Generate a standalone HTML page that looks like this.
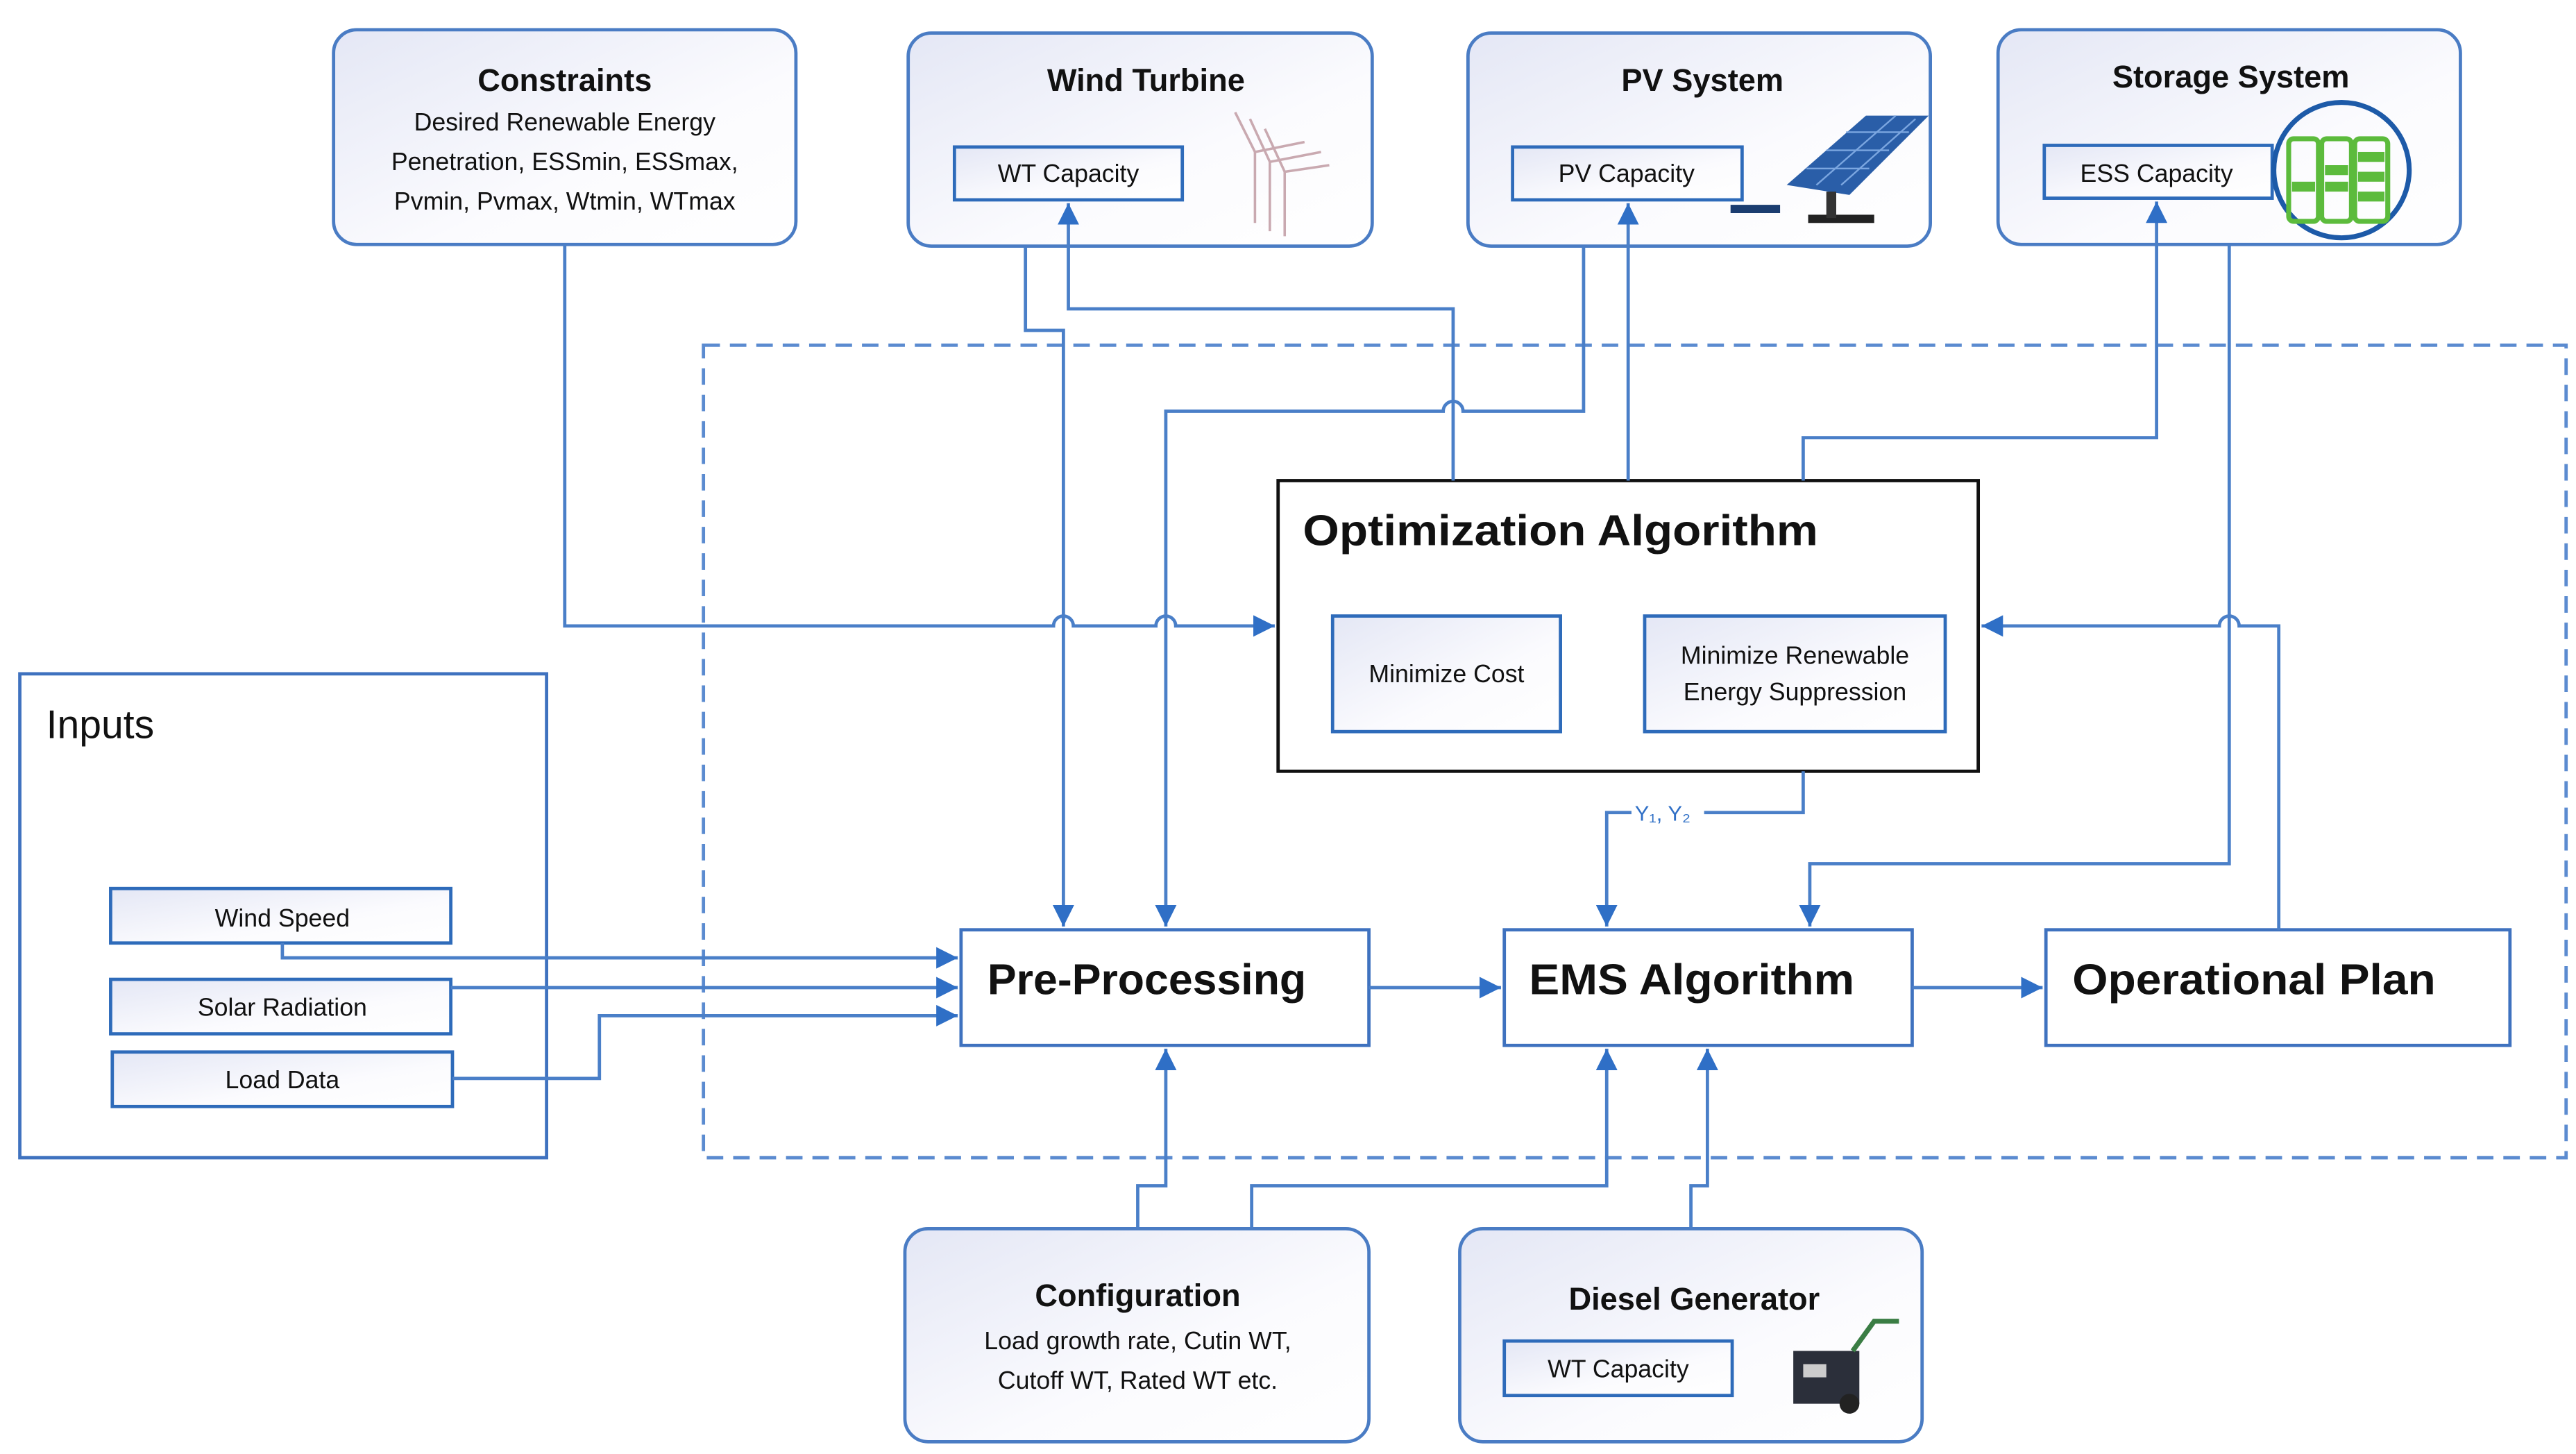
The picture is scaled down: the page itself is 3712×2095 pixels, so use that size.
<!DOCTYPE html>
<html><head><meta charset="utf-8"><style>
html,body{margin:0;padding:0;background:#fff;}
svg{display:block;}
text{font-family:"Liberation Sans Narrow","Liberation Sans",sans-serif;fill:#111;}
.t{font-weight:bold;}
</style></head><body>
<svg width="3712" height="2095" viewBox="0 0 1560 880.4" xmlns="http://www.w3.org/2000/svg">
<defs>
<linearGradient id="g" x1="0" y1="0" x2="1" y2="1">
<stop offset="0" stop-color="#e4e7f5"/><stop offset="0.6" stop-color="#fbfbfe"/><stop offset="1" stop-color="#ffffff"/>
</linearGradient>
<marker id="ar" viewBox="0 0 10 10" refX="10" refY="5" markerWidth="13" markerHeight="13" orient="auto-start-reverse" markerUnits="userSpaceOnUse">
<path d="M0,0 L10,5 L0,10 z" fill="#2f6fc6"/>
</marker>
</defs>

<!-- dashed region -->
<rect x="426" y="209" width="1128" height="492" fill="none" stroke="#5b8bd0" stroke-width="2" stroke-dasharray="10,6"/>

<!-- main boxes -->
<rect x="774" y="291" width="424" height="176" fill="#fff" stroke="#111" stroke-width="2"/>
<rect x="12" y="408" width="319" height="293" fill="#fff" stroke="#3f72bf" stroke-width="2"/>

<!-- top rounded boxes -->
<g stroke="#4a7cc4" stroke-width="2" fill="url(#g)">
<rect x="202" y="18" width="280" height="130" rx="14"/>
<rect x="550" y="20" width="281" height="129" rx="14"/>
<rect x="889" y="20" width="280" height="129" rx="14"/>
<rect x="1210" y="18" width="280" height="130" rx="14"/>
<rect x="548" y="744" width="281" height="129" rx="14"/>
<rect x="884" y="744" width="280" height="129" rx="14"/>
</g>
<g fill="url(#g)" stroke="#2e6bba" stroke-width="2">
<rect x="578" y="89" width="138" height="32"/>
<rect x="916" y="89" width="139" height="32"/>
<rect x="1238" y="88" width="138" height="32"/>
<rect x="911" y="812" width="138" height="33"/>
<rect x="807" y="373" width="138" height="70"/>
<rect x="996" y="373" width="182" height="70"/>
<rect x="67" y="538" width="206" height="33"/>
<rect x="67" y="593" width="206" height="33"/>
<rect x="68" y="637" width="206" height="33"/>
</g>
<g fill="#fff" stroke="#3f72bf" stroke-width="2">
<rect x="582" y="563" width="247" height="70"/>
<rect x="911" y="563" width="247" height="70"/>
<rect x="1239" y="563" width="281" height="70"/>
</g>

<!-- connectors -->
<g fill="none" stroke="#4a7fc8" stroke-width="2">
<path d="M342 148 V379 H638 A6 6 0 0 1 650 379 H700 A6 6 0 0 1 712 379 H772" marker-end="url(#ar)"/>
<path d="M621 149 V200 H644 V561" marker-end="url(#ar)"/>
<path d="M880 291 V187 H647 V123" marker-end="url(#ar)"/>
<path d="M959 149 V249 H886 A6 6 0 0 0 874 249 H706 V561" marker-end="url(#ar)"/>
<path d="M986 291 V123" marker-end="url(#ar)"/>
<path d="M1092 291 V265 H1306 V122" marker-end="url(#ar)"/>
<path d="M1350 148 V523 H1096 V561" marker-end="url(#ar)"/>
<path d="M1380 563 V379 H1356 A6 6 0 0 0 1344 379 H1200" marker-end="url(#ar)"/>
<path d="M1092 467 V492 H1032 M988 492 H973 V561" marker-end="url(#ar)"/>
<path d="M171 571 V580 H580" marker-end="url(#ar)"/>
<path d="M273 598 H580" marker-end="url(#ar)"/>
<path d="M274 653 H363 V615 H580" marker-end="url(#ar)"/>
<path d="M829 598 H909" marker-end="url(#ar)"/>
<path d="M1158 598 H1237" marker-end="url(#ar)"/>
<path d="M689 744 V718 H706 V635" marker-end="url(#ar)"/>
<path d="M758 744 V718 H973 V635" marker-end="url(#ar)"/>
<path d="M1024 744 V718 H1034 V635" marker-end="url(#ar)"/>
</g>
<text x="990" y="497" font-size="13" style="fill:#2f6fc6">Y₁, Y₂</text>

<!-- texts -->
<text class="t" x="342" y="55" font-size="19" text-anchor="middle">Constraints</text>
<text x="342" y="79" font-size="15" text-anchor="middle">Desired Renewable Energy</text>
<text x="342" y="103" font-size="15" text-anchor="middle">Penetration, ESSmin, ESSmax,</text>
<text x="342" y="127" font-size="15" text-anchor="middle">Pvmin, Pvmax, Wtmin, WTmax</text>
<text class="t" x="694" y="55" font-size="19" text-anchor="middle">Wind Turbine</text>
<text class="t" x="1031" y="55" font-size="19" text-anchor="middle">PV System</text>
<text class="t" x="1351" y="53" font-size="19" text-anchor="middle">Storage System</text>
<text x="647" y="110" font-size="15" text-anchor="middle">WT Capacity</text>
<text x="985" y="110" font-size="15" text-anchor="middle">PV Capacity</text>
<text x="1306" y="110" font-size="15" text-anchor="middle">ESS Capacity</text>
<text class="t" x="789" y="330" font-size="26" textLength="312" lengthAdjust="spacingAndGlyphs">Optimization Algorithm</text>
<text x="876" y="413" font-size="15" text-anchor="middle">Minimize Cost</text>
<text x="1087" y="402" font-size="15" text-anchor="middle">Minimize Renewable</text>
<text x="1087" y="424" font-size="15" text-anchor="middle">Energy Suppression</text>
<text x="28" y="447" font-size="24">Inputs</text>
<text x="171" y="561" font-size="15" text-anchor="middle">Wind Speed</text>
<text x="171" y="615" font-size="15" text-anchor="middle">Solar Radiation</text>
<text x="171" y="659" font-size="15" text-anchor="middle">Load Data</text>
<text class="t" x="598" y="602" font-size="26" textLength="193" lengthAdjust="spacingAndGlyphs">Pre-Processing</text>
<text class="t" x="926" y="602" font-size="26" textLength="197" lengthAdjust="spacingAndGlyphs">EMS Algorithm</text>
<text class="t" x="1255" y="602" font-size="26" textLength="220" lengthAdjust="spacingAndGlyphs">Operational Plan</text>
<text class="t" x="689" y="791" font-size="19" text-anchor="middle">Configuration</text>
<text x="689" y="817" font-size="15" text-anchor="middle">Load growth rate, Cutin WT,</text>
<text x="689" y="841" font-size="15" text-anchor="middle">Cutoff WT, Rated WT etc.</text>
<text class="t" x="1026" y="793" font-size="19" text-anchor="middle">Diesel Generator</text>
<text x="980" y="834" font-size="15" text-anchor="middle">WT Capacity</text>

<!-- wind turbine icon -->
<g stroke="#c9a9b0" stroke-width="1.5" fill="none">
<line x1="760" y1="92" x2="760" y2="135"/><line x1="769" y1="98" x2="769" y2="140"/><line x1="778" y1="104" x2="778" y2="143"/>
<path d="M760 92 L748 68 M760 92 L790 86 M769 98 L757 72 M769 98 L800 92 M778 104 L766 78 M778 104 L805 100"/>
</g>
<!-- solar panel -->
<polygon points="1082,112 1130,70 1168,70 1120,118" fill="#2a5ea8"/>
<g stroke="#7ba6e0" stroke-width="1"><line x1="1094" y1="102" x2="1132" y2="102"/><line x1="1106" y1="91" x2="1144" y2="91"/><line x1="1118" y1="80" x2="1156" y2="80"/><line x1="1100" y1="112" x2="1148" y2="70"/><line x1="1115" y1="112" x2="1160" y2="72"/></g>
<rect x="1048" y="124" width="30" height="5" fill="#1b3d70"/>
<rect x="1095" y="130" width="40" height="5" fill="#222"/><rect x="1106" y="116" width="6" height="16" fill="#333"/>
<!-- battery -->
<circle cx="1418" cy="103" r="41" fill="none" stroke="#1d5aa8" stroke-width="3"/>
<g fill="none" stroke="#5cbb3c" stroke-width="3">
<rect x="1386" y="84" width="18" height="50" rx="3"/><rect x="1406" y="84" width="18" height="50" rx="3"/><rect x="1426" y="84" width="20" height="50" rx="3"/>
</g>
<g fill="#5cbb3c"><rect x="1408" y="100" width="14" height="6"/><rect x="1408" y="110" width="14" height="6"/><rect x="1428" y="92" width="16" height="6"/><rect x="1428" y="104" width="16" height="6"/><rect x="1428" y="116" width="16" height="6"/><rect x="1388" y="110" width="14" height="6"/></g>
<!-- generator -->
<rect x="1086" y="818" width="40" height="32" fill="#2b2f3a"/>
<circle cx="1120" cy="850" r="6" fill="#222"/>
<rect x="1092" y="826" width="14" height="8" fill="#ccc"/>
<path d="M1122 818 L1135 800 L1150 800" stroke="#3a7d44" stroke-width="3" fill="none"/>
</svg>
</body></html>
